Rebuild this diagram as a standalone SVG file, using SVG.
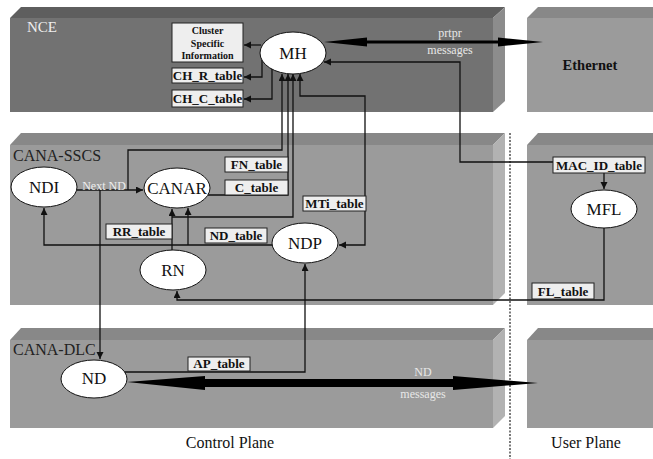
<svg xmlns="http://www.w3.org/2000/svg" width="653" height="459" viewBox="0 0 653 459">
<style>
text{font-family:"Liberation Serif","Times New Roman",Times,serif}
.tbl{fill:#eeeeee;stroke:#222;stroke-width:1}
.tt{font-weight:bold;font-size:13px;fill:#111;text-anchor:middle}
.ct{font-weight:bold;font-size:10px;fill:#111;text-anchor:middle}
.ell{fill:#fff;stroke:#111;stroke-width:1}
.nt{font-size:17px;fill:#111;text-anchor:middle}
.lbl{font-size:16px;fill:#222}
.wt{font-size:12px;fill:#e8e8e8;text-anchor:middle}
.ln{fill:none;stroke:#111;stroke-width:1.3}
.dark-front{fill:#727272}.dark-top{fill:#5e5e5e}.dark-side{fill:#8c8c8c}
.lt-front{fill:#9b9b9b}.lt-top{fill:#888888}.lt-side{fill:#b2b2b2}
</style>
<defs>
<marker id="ah" markerUnits="userSpaceOnUse" markerWidth="8" markerHeight="8" refX="7" refY="3.5" orient="auto">
<path d="M0,0 L7,3.5 L0,7 z" fill="#111"/>
</marker>
</defs>
<rect width="653" height="459" fill="#fff"/>
<g id="planes">
<polygon class="dark-top" points="10,18 21,7 505,7 493,18"/>
<rect class="dark-front" x="10" y="18" width="483" height="94"/>
<polygon class="dark-side" points="493,18 505,7 505,101 493,112"/>
<polygon class="lt-top" points="527,18 538,7 653,7 653,18"/>
<rect class="lt-front" x="527" y="18" width="126" height="94"/>
<polygon class="lt-top" points="10,145 21,133 505,133 493,145"/>
<rect class="lt-front" x="10" y="145" width="483" height="160"/>
<polygon class="lt-side" points="493,145 505,133 505,293 493,305"/>
<polygon class="lt-top" points="527,145 538,133 653,133 653,145"/>
<rect class="lt-front" x="527" y="145" width="126" height="160"/>
<polygon class="lt-top" points="10,340 21,328 505,328 493,340"/>
<rect class="lt-front" x="10" y="340" width="483" height="88"/>
<polygon class="lt-side" points="493,340 505,328 505,416 493,428"/>
<polygon class="lt-top" points="527,340 538,328 653,328 653,340"/>
<rect class="lt-front" x="527" y="340" width="126" height="88"/>
<line x1="510" y1="133" x2="510" y2="459" stroke="#222" stroke-width="1.2" stroke-dasharray="2,1.5"/>
<text x="27" y="32" font-size="15" fill="#eeeeee">NCE</text>
<text class="lbl" x="13" y="161">CANA-SSCS</text>
<text class="lbl" x="13" y="355">CANA-DLC</text>
<text x="590" y="70" font-size="14.5" font-weight="bold" fill="#111" text-anchor="middle">Ethernet</text>
<text x="230" y="448" font-size="16" fill="#111" text-anchor="middle">Control Plane</text>
<text x="586" y="448" font-size="16" fill="#111" text-anchor="middle">User Plane</text>
</g>
<g id="connectors">
<path class="ln" d="M261,45 H244" marker-end="url(#ah)"/>
<path class="ln" d="M262,60 V77 H244" marker-end="url(#ah)"/>
<path class="ln" d="M272,69 V99 H244" marker-end="url(#ah)"/>
<path class="ln" d="M128,190 V150 H282 V74" marker-end="url(#ah)"/>
<path class="ln" d="M77,190 H143" marker-end="url(#ah)"/>
<path class="ln" d="M100,190 V359" marker-end="url(#ah)"/>
<path class="ln" d="M208,195 H288 V74" marker-end="url(#ah)"/>
<path class="ln" d="M172,217 H293 V74" marker-end="url(#ah)"/>
<path class="ln" d="M172,250 V209" marker-end="url(#ah)"/>
<path class="ln" d="M365,150 V96 H300 V74" marker-end="url(#ah)"/>
<path class="ln" d="M365,150 V245 H339" marker-end="url(#ah)"/>
<path class="ln" d="M272,245 H44 V208" marker-end="url(#ah)"/>
<path class="ln" d="M188,245 V208" marker-end="url(#ah)"/>
<path class="ln" d="M553,162 H460 V62 H324" marker-end="url(#ah)"/>
<path class="ln" d="M604,173 V189" marker-end="url(#ah)"/>
<path class="ln" d="M604,228 V300 H177 V291" marker-end="url(#ah)"/>
<path class="ln" d="M124,372 H305 V264" marker-end="url(#ah)"/>
<polygon fill="#000" points="324,42 367,37.5 367,40.5 498,40.5 498,37.5 543,42 498,46.5 498,43.5 367,43.5 367,46.5"/>
<polygon fill="#000" points="127,382 205,376 205,379 453,379 453,376 538,383 453,390 453,387 205,387 205,390"/>
<text class="wt" x="450" y="37">prtpr</text>
<text class="wt" x="450" y="54">messages</text>
<text class="wt" x="423" y="376">ND</text>
<text class="wt" x="423" y="398">messages</text>
<text x="104" y="190" font-size="12" fill="#eeeeee" text-anchor="middle">Next ND</text>
</g>
<g id="MH"><ellipse class="ell" cx="293" cy="53" rx="33" ry="21"/><text class="nt" x="293" y="59">MH</text></g>
<g id="NDI"><ellipse class="ell" cx="44" cy="187" rx="33" ry="20"/><text class="nt" x="44" y="193">NDI</text></g>
<g id="CANAR"><ellipse class="ell" cx="177" cy="188" rx="33" ry="20"/><text class="nt" x="177" y="194">CANAR</text></g>
<g id="RN"><ellipse class="ell" cx="173" cy="270" rx="33" ry="20"/><text class="nt" x="173" y="276">RN</text></g>
<g id="NDP"><ellipse class="ell" cx="305" cy="243" rx="33" ry="20"/><text class="nt" x="305" y="249">NDP</text></g>
<g id="MFL"><ellipse class="ell" cx="604" cy="209" rx="33" ry="19"/><text class="nt" x="604" y="215">MFL</text></g>
<g id="ND"><ellipse class="ell" cx="94" cy="379" rx="33" ry="19"/><text class="nt" x="94" y="384" font-size="15">ND</text></g>
<g id="ClusterInfo"><rect class="tbl" x="172" y="23" width="71" height="39"/>
<text class="ct" x="207.5" y="34">Cluster</text>
<text class="ct" x="207.5" y="46.5">Specific</text>
<text class="ct" x="207.5" y="59">Information</text></g>
<g id="CH_R_table"><rect class="tbl" x="172" y="68" width="71" height="15"/><text class="tt" x="207.5" y="80">CH_R_table</text></g>
<g id="CH_C_table"><rect class="tbl" x="172" y="90" width="71" height="17"/><text class="tt" x="207.5" y="103">CH_C_table</text></g>
<g id="FN_table"><rect class="tbl" x="225" y="157" width="63" height="15"/><text class="tt" x="256.5" y="169">FN_table</text></g>
<g id="C_table"><rect class="tbl" x="225" y="180" width="63" height="15"/><text class="tt" x="256.5" y="192">C_table</text></g>
<g id="MTi_table"><rect class="tbl" x="303" y="196" width="63" height="15"/><text class="tt" x="334.5" y="208">MTi_table</text></g>
<g id="RR_table"><rect class="tbl" x="106" y="224" width="66" height="15"/><text class="tt" x="139" y="236">RR_table</text></g>
<g id="ND_table"><rect class="tbl" x="205" y="228" width="62" height="15"/><text class="tt" x="236" y="240">ND_table</text></g>
<g id="AP_table"><rect class="tbl" x="188" y="357" width="62" height="14"/><text class="tt" x="219" y="368" font-size="12">AP_table</text></g>
<g id="MAC_ID_table"><rect class="tbl" x="553" y="157" width="92" height="16"/><text class="tt" x="599" y="170">MAC_ID_table</text></g>
<g id="FL_table"><rect class="tbl" x="532" y="283" width="62" height="16"/><text class="tt" x="563" y="296">FL_table</text></g>
</svg>
